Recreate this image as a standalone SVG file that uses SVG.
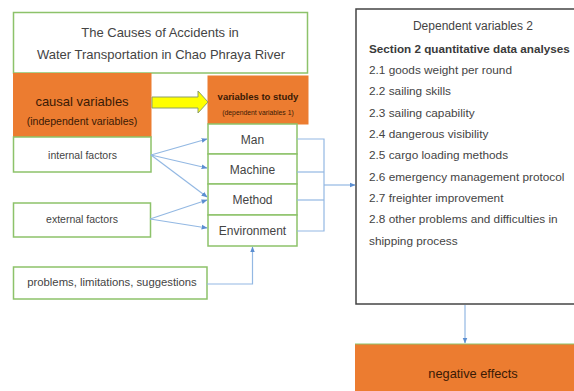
<svg xmlns="http://www.w3.org/2000/svg" width="574" height="391" viewBox="0 0 574 391">
  <style>
    text { font-family: "Liberation Sans", Arial, sans-serif; }
    .box { fill: #ffffff; stroke: #8dc26a; stroke-width: 1.5; }
    .orange { fill: #ec7c30; stroke: #ec7c30; stroke-width: 1; }
    .lbl { fill: #444444; text-anchor: middle; }
    .olbl { fill: #3a1a05; text-anchor: middle; }
    .item { fill: #444444; font-size: 11.8px; }
    .conn { fill: none; stroke: #93b8e3; stroke-width: 1.2; }
  </style>
  <defs>
    <marker id="arrow" viewBox="0 0 10 10" refX="9" refY="5" markerWidth="6" markerHeight="6" orient="auto" markerUnits="userSpaceOnUse">
      <path d="M0,1 L10,5 L0,9 Z" fill="#5b8ed1"/>
    </marker>
  </defs>

  <rect width="574" height="391" fill="#ffffff"/>

  <!-- Title -->
  <g id="title">
    <rect class="box" x="13.5" y="12.5" width="294" height="60.5"/>
    <text class="lbl" x="160" y="36.5" font-size="13">The Causes of Accidents in</text>
    <text class="lbl" x="161" y="58.5" font-size="13">Water Transportation in Chao Phraya River</text>
  </g>

  <!-- Causal variables -->
  <g id="causal">
    <rect class="orange" x="13.5" y="73.5" width="137.5" height="63.5"/>
    <text class="olbl" x="82" y="106" font-size="13">causal variables</text>
    <text class="olbl" x="82" y="124.5" font-size="10.6">(independent variables)</text>
  </g>

  <g id="internal">
    <rect class="box" x="13.5" y="137" width="137.5" height="35"/>
    <text class="lbl" x="82.5" y="158.5" font-size="10.5">internal factors</text>
  </g>

  <g id="external">
    <rect class="box" x="13.5" y="203" width="137" height="34"/>
    <text class="lbl" x="82" y="222.5" font-size="10.5">external factors</text>
  </g>

  <g id="problems">
    <rect class="box" x="13.5" y="267" width="193.5" height="32"/>
    <text class="lbl" x="112" y="286" font-size="11.3">problems, limitations, suggestions</text>
  </g>

  <!-- Variables to study -->
  <g id="study">
    <rect class="orange" x="208" y="76" width="100" height="48"/>
    <text class="olbl" x="258" y="99.5" font-size="9.5" font-weight="bold">variables to study</text>
    <text class="olbl" x="258" y="114.5" font-size="6.8">(dependent variables 1)</text>
  </g>

  <g id="man">
    <rect class="box" x="208" y="124" width="89" height="30"/>
    <text class="lbl" x="252.5" y="143.5" font-size="12">Man</text>
  </g>
  <g id="machine">
    <rect class="box" x="208" y="154" width="89" height="30"/>
    <text class="lbl" x="252.5" y="174" font-size="12">Machine</text>
  </g>
  <g id="method">
    <rect class="box" x="208" y="184" width="89" height="31"/>
    <text class="lbl" x="252.5" y="203.5" font-size="12">Method</text>
  </g>
  <g id="environment">
    <rect class="box" x="208" y="215" width="89" height="31"/>
    <text class="lbl" x="252.5" y="234.5" font-size="12">Environment</text>
  </g>

  <!-- Dependent variables 2 -->
  <g id="dependent2">
    <rect x="356" y="9" width="240" height="295" fill="#ffffff" stroke="#444444" stroke-width="1.5"/>
    <text class="lbl" x="473" y="29.5" font-size="12">Dependent variables 2</text>
    <text x="369" y="52.5" font-size="11.7" font-weight="bold" fill="#3a3a3a">Section 2 quantitative data analyses</text>
    <text class="item" x="369" y="73.5">2.1 goods weight per round</text>
    <text class="item" x="369" y="95">2.2 sailing skills</text>
    <text class="item" x="369" y="116.5">2.3 sailing capability</text>
    <text class="item" x="369" y="137.5">2.4 dangerous visibility</text>
    <text class="item" x="369" y="159">2.5 cargo loading methods</text>
    <text class="item" x="369" y="180.5">2.6 emergency management protocol</text>
    <text class="item" x="369" y="201.5">2.7 freighter improvement</text>
    <text class="item" x="369" y="223">2.8 other problems and difficulties in</text>
    <text class="item" x="369" y="244.5">shipping process</text>
  </g>

  <!-- Negative effects -->
  <g id="negative">
    <rect x="355" y="344" width="230" height="60" fill="#ec7c30"/>
    <line x1="355" y1="344" x2="574" y2="344" stroke="#8dc26a" stroke-width="1.2"/>
    <text class="olbl" x="473" y="377.5" font-size="12.8">negative effects</text>
  </g>

  <!-- Connectors -->
  <g id="connectors">
    <polygon points="152,97 198,97 198,91 208,102 198,113 198,108 152,108" fill="#ffff00" stroke="#8b9e6a" stroke-width="1"/>

    <line class="conn" x1="151" y1="155" x2="207" y2="139" marker-end="url(#arrow)"/>
    <line class="conn" x1="151" y1="155" x2="207" y2="168" marker-end="url(#arrow)"/>
    <line class="conn" x1="151" y1="155" x2="207" y2="197" marker-end="url(#arrow)"/>
    <line class="conn" x1="150" y1="219" x2="207" y2="200" marker-end="url(#arrow)"/>
    <line class="conn" x1="150" y1="219" x2="207" y2="228" marker-end="url(#arrow)"/>

    <polyline class="conn" points="207,284 252.5,284 252.5,247" marker-end="url(#arrow)"/>

    <polyline class="conn" points="297,139 324,139 324,231 297,231"/>
    <line class="conn" x1="297" y1="172" x2="324" y2="172"/>
    <line class="conn" x1="297" y1="200" x2="324" y2="200"/>
    <line class="conn" x1="324" y1="185" x2="355" y2="185" marker-end="url(#arrow)"/>

    <line class="conn" x1="465" y1="305" x2="465" y2="343" marker-end="url(#arrow)"/>
  </g>
</svg>
